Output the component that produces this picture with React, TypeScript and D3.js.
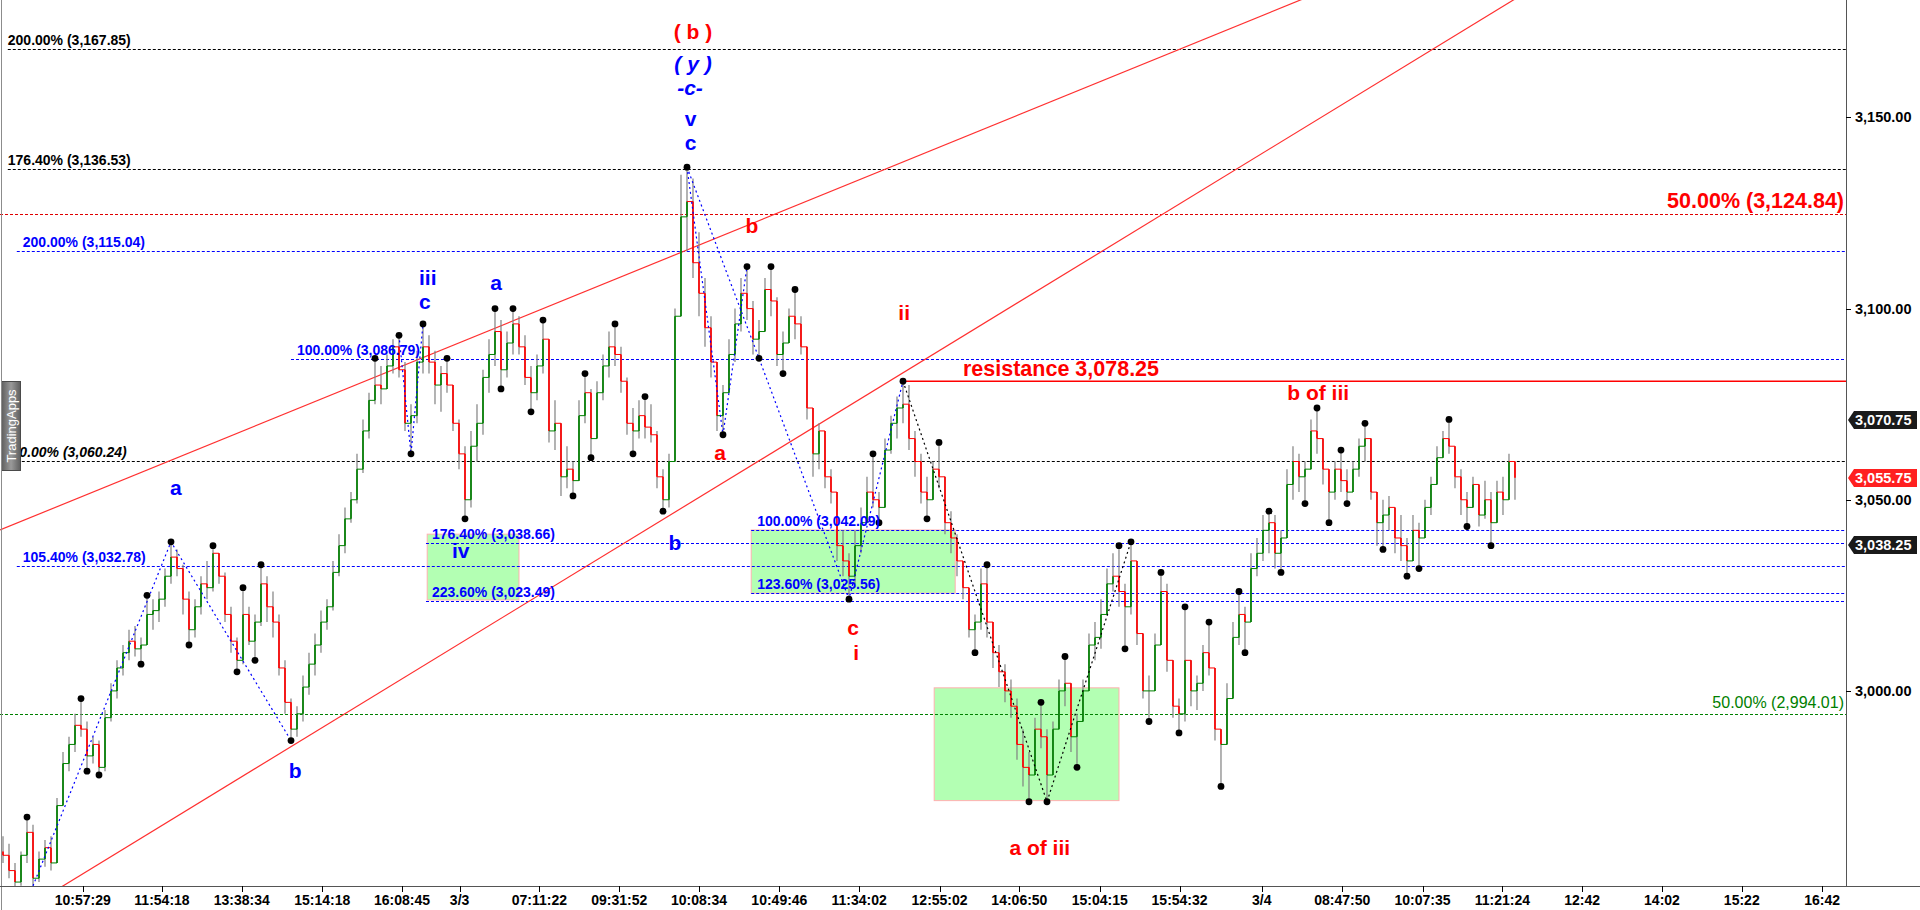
import React from "react";
import * as d3 from "d3";

// ---------------- DATA ----------------
// bars: [high, low, close]; open = previous close
const firstOpen = 2958;
const session1: number[][] = [
  [2962, 2955, 2957], [2960, 2951, 2953], [2955, 2948, 2950], [2958, 2949, 2957], [2967, 2955, 2963],
  [2965, 2949, 2951], [2958, 2950, 2956], [2961, 2954, 2959], [2962, 2953, 2955], [2972, 2955, 2970],
  [2984, 2970, 2981], [2988, 2979, 2986], [2994, 2984, 2991], [2998, 2988, 2990], [2992, 2979, 2983],
  [2988, 2981, 2986], [2987, 2978, 2980], [2995, 2979, 2993], [3002, 2992, 3000], [3008, 2998, 3006],
  [3012, 3004, 3010], [3016, 3008, 3013], [3017, 3009, 3011], [3014, 3007, 3012], [3025, 3012, 3020],
  [3024, 3016, 3021], [3026, 3018, 3024], [3032, 3022, 3030], [3039, 3028, 3035], [3037, 3030, 3032],
  [3033, 3020, 3024], [3026, 3012, 3016], [3024, 3014, 3022], [3030, 3020, 3028], [3034, 3024, 3027],
  [3038, 3026, 3036], [3036, 3028, 3030], [3031, 3018, 3020], [3022, 3010, 3013], [3014, 3005, 3008],
  [3027, 3007, 3020], [3022, 3012, 3013], [3020, 3008, 3018], [3033, 3017, 3028], [3030, 3018, 3022],
  [3026, 3014, 3018], [3020, 3004, 3006], [3008, 2994, 2997], [2998, 2987, 2990], [2996, 2988, 2994],
  [3004, 2992, 3001], [3010, 2999, 3007], [3015, 3004, 3012], [3021, 3010, 3018], [3024, 3016, 3022],
  [3034, 3021, 3031], [3041, 3030, 3038], [3048, 3036, 3045], [3052, 3044, 3050], [3062, 3049, 3058],
  [3071, 3057, 3068], [3078, 3066, 3076], [3087, 3075, 3080], [3085, 3075, 3079], [3088, 3079, 3085],
  [3092, 3083, 3090], [3093, 3082, 3084], [3086, 3068, 3070], [3075, 3062, 3072], [3089, 3070, 3086],
  [3096, 3083, 3090], [3093, 3083, 3086], [3089, 3075, 3080], [3085, 3073, 3083], [3087, 3078, 3080],
  [3078, 3068, 3070],
];
const session2: number[][] = [
  [3071, 3058, 3062], [3064, 3045, 3050], [3068, 3048, 3064], [3075, 3060, 3070], [3084, 3067, 3082],
  [3092, 3078, 3088], [3100, 3085, 3094], [3097, 3079, 3084], [3094, 3082, 3091], [3100, 3088, 3096],
  [3098, 3088, 3090], [3093, 3080, 3082], [3085, 3073, 3078], [3088, 3076, 3085], [3097, 3083, 3092],
  [3092, 3065, 3068], [3076, 3063, 3070], [3068, 3051, 3056], [3064, 3053, 3058], [3060, 3051, 3055],
  [3076, 3056, 3072], [3083, 3070, 3078], [3079, 3061, 3066], [3081, 3066, 3078], [3088, 3076, 3085],
  [3094, 3082, 3090], [3096, 3085, 3088], [3090, 3078, 3081], [3082, 3067, 3070], [3074, 3062, 3068],
  [3076, 3066, 3072], [3077, 3066, 3069], [3075, 3065, 3067], [3068, 3053, 3056], [3058, 3047, 3050],
  [3062, 3048, 3060], [3100, 3060, 3098], [3135, 3102, 3124], [3137, 3115, 3128], [3134, 3108, 3112],
  [3120, 3098, 3104], [3108, 3090, 3095], [3098, 3082, 3086], [3086, 3068, 3072], [3080, 3067, 3078],
  [3092, 3078, 3088], [3100, 3086, 3096], [3108, 3094, 3104], [3111, 3097, 3100], [3102, 3088, 3092],
  [3097, 3087, 3094], [3108, 3094, 3105], [3111, 3098, 3102], [3103, 3085, 3088], [3094, 3083, 3091],
  [3100, 3092, 3098], [3105, 3092, 3096], [3098, 3088, 3090], [3089, 3071, 3074], [3074, 3056, 3062],
  [3070, 3058, 3068], [3068, 3053, 3056], [3058, 3049, 3052], [3050, 3034, 3038], [3042, 3030, 3034],
  [3036, 3024, 3030], [3042, 3028, 3038], [3048, 3036, 3044], [3056, 3045, 3052], [3062, 3048, 3050],
  [3052, 3044, 3048], [3066, 3050, 3063], [3072, 3062, 3070], [3077, 3066, 3074], [3081, 3070, 3075],
  [3080, 3063, 3066], [3068, 3056, 3060], [3062, 3049, 3052], [3056, 3045, 3050], [3060, 3050, 3058],
  [3065, 3053, 3056], [3056, 3041, 3044], [3047, 3036, 3040], [3041, 3030, 3034], [3034, 3024, 3027],
  [3025, 3014, 3016], [3020, 3010, 3018], [3032, 3016, 3028], [3033, 3014, 3018], [3016, 3006, 3010],
  [3012, 3001, 3005], [3007, 2997, 3000], [3003, 2993, 2996], [2998, 2982, 2986], [2990, 2975, 2980],
  [2984, 2971, 2978], [2993, 2982, 2990], [2997, 2985, 2988], [2990, 2971, 2978], [2992, 2979, 2990],
  [3003, 2990, 3000], [3009, 2996, 3002], [3002, 2984, 2988], [2994, 2980, 2992], [3003, 2992, 3000],
  [3015, 3000, 3012], [3018, 3008, 3014], [3024, 3011, 3020], [3032, 3020, 3028], [3036, 3026, 3030],
  [3038, 3022, 3026], [3028, 3011, 3022], [3039, 3020, 3034], [3030, 3012, 3015], [3014, 2998, 3000],
  [3004, 2992, 3000], [3015, 3002, 3012], [3031, 3014, 3026], [3028, 3005, 3008], [3006, 2993, 2996],
  [2998, 2989, 2994], [3022, 2992, 3008], [3006, 2996, 3000], [3004, 2995, 3002], [3012, 3000, 3010],
  [3018, 3004, 3006], [3006, 2987, 2990], [2990, 2975, 2986], [3002, 2988, 2998], [3018, 3000, 3014],
  [3026, 3012, 3020], [3022, 3010, 3018], [3036, 3020, 3032], [3040, 3030, 3036],
];
const session3: number[][] = [
  [3046, 3034, 3042], [3047, 3036, 3044], [3046, 3032, 3036], [3042, 3031, 3040], [3058, 3044, 3054],
  [3064, 3050, 3060], [3062, 3052, 3056], [3060, 3049, 3058], [3071, 3058, 3068], [3074, 3062, 3066],
  [3066, 3054, 3058], [3058, 3044, 3052], [3060, 3050, 3058], [3063, 3052, 3055], [3058, 3049, 3052],
  [3060, 3054, 3058], [3066, 3056, 3064], [3070, 3060, 3066], [3064, 3050, 3052], [3050, 3038, 3044],
  [3050, 3037, 3046], [3051, 3042, 3048], [3048, 3036, 3040], [3046, 3034, 3038], [3040, 3030, 3034],
  [3046, 3035, 3042], [3044, 3032, 3040], [3050, 3040, 3048], [3056, 3046, 3054], [3064, 3054, 3061],
  [3068, 3061, 3066], [3071, 3062, 3064], [3064, 3053, 3056], [3058, 3046, 3050], [3052, 3043, 3048],
  [3056, 3048, 3054], [3053, 3043, 3046], [3055, 3045, 3050], [3052, 3038, 3044], [3055, 3047, 3052],
  [3056, 3046, 3050], [3062, 3055, 3060], [3058, 3050, 3055.75],
];

const priceTicks = [3000, 3050, 3100, 3150];
const timeTickSlots = [13.3, 26.5, 39.8, 53.2, 66.5, 76.1, 89.4, 102.7, 116, 129.4, 142.7, 156.1, 169.4, 182.8, 196.1, 209.8, 223.2, 236.6, 249.9, 263.2, 276.5, 289.8, 303.2];
const timeTickLabels = ["10:57:29", "11:54:18", "13:38:34", "15:14:18", "16:08:45", "3/3", "07:11:22", "09:31:52", "10:08:34", "10:49:46", "11:34:02", "12:55:02", "14:06:50", "15:04:15", "15:54:32", "3/4", "08:47:50", "10:07:35", "11:21:24", "12:42", "14:02", "15:22", "16:42"];

const fibPrices = [3167.85, 3136.53, 3124.84, 3115.04, 3086.79, 3060.24, 3042.09, 3038.66, 3032.78, 3025.56, 3023.49, 2994.01];
const fibLabels = ["200.00% (3,167.85)", "176.40% (3,136.53)", "50.00% (3,124.84)", "200.00% (3,115.04)", "100.00% (3,086.79)", "100.00% (3,060.24)", "100.00% (3,042.09)", "176.40% (3,038.66)", "105.40% (3,032.78)", "123.60% (3,025.56)", "223.60% (3,023.49)", "50.00% (2,994.01)"];
const fibKinds = ["black", "black", "red", "blue", "blue", "blackItalic", "blue", "blue", "blue", "blue", "blue", "green"];
const fibStartSlots = [0.8, 0.8, -0.5, 2.3, 48, -0.2, 124.7, 70.5, 2.3, 124.7, 70.5, -0.5];

const zoneSlots = [[70.7, 86.0], [124.7, 158.7], [155.2, 186.0]];
const zonePrices = [[3041.0, 3023.8], [3042.09, 3025.56], [3000.8, 2971.3]];

const trendUpper = [[-0.5, 3042.1], [216.2, 3180.7]];
const trendLower = [[10.8, 2949.75], [251.7, 3180.7]];

const resistanceBar = 150;
const resistanceText = "resistance 3,078.25";
const resistanceLabelAt = [160, 3082.4];

const dotHighBars = [4, 13, 24, 28, 35, 40, 43, 62, 66, 70, 74, 82, 85, 90, 97, 102, 107, 114, 124, 128, 132, 145, 150, 156, 164, 173, 177, 186, 188, 193, 197, 201, 206, 211, 219, 223, 227, 241];
const dotLowBars = [14, 16, 23, 31, 39, 42, 48, 68, 77, 83, 88, 95, 98, 105, 110, 120, 126, 130, 141, 146, 154, 162, 171, 174, 179, 187, 191, 196, 203, 207, 213, 217, 221, 224, 230, 234, 236, 244, 248];

const blueWaves: [number, string][][] = [
  [[5, "L"], [28, "H"], [48, "L"]],
  [[66, "H"], [68, "L"], [70, "H"]],
  [[114, "H"], [120, "L"], [124, "H"]],
  [[114, "H"], [126, "L"], [141, "L"], [150, "H"]],
];
const blackWaves: [number, string][][] = [
  [[150, "H"], [174, "L"], [188, "H"]],
];

const waveTexts = ["( b )", "( y )", "-c-", "v", "c", "iii", "c", "a", "a", "b", "iv", "b", "b", "a", "ii", "c", "i", "a of iii", "b of iii"];
const waveSlots = [115, 115, 114.5, 114.6, 114.6, 70.8, 70.3, 82.2, 28.8, 48.7, 76.3, 112, 124.8, 119.5, 150.2, 141.7, 142.2, 172.8, 219.2];
const wavePrices = [3170.5, 3162.2, 3155.9, 3147.8, 3141.5, 3106.2, 3099.9, 3104.9, 3051.2, 2977.2, 3034.8, 3036.9, 3119.8, 3060.4, 3097.0, 3014.6, 3008.1, 2957.1, 3076.1];
const waveKinds = ["red", "blueItalic", "blueItalic", "blue", "blue", "blue", "blue", "blue", "blue", "blue", "blue", "blue", "red", "red", "red", "red", "red", "red", "red"];

const markerPrices = [3070.75, 3055.75, 3038.25];
const markerKinds = ["black", "red", "black"];

// ---------------- LAYOUT ----------------
const W = 1920;
const H = 910;
const PLOT_R = 1846;
const PLOT_B = 886;
const FONT = "'Liberation Sans', Arial, Helvetica, sans-serif";

const xScale = d3.scaleLinear().domain([-0.5, 307.17]).range([0, PLOT_R]);
const yScale = d3.scaleLinear().domain([3000, 3150]).range([690.9, 117.45]);

const bars = [...session1, ...session2, ...session3];
const candles = bars.map((b, i) => {
  const o = i === 0 ? firstOpen : bars[i - 1][2];
  return { i, o, h: b[0], l: b[1], c: b[2] };
});

const fibStyle: Record<string, { color: string; size: number; weight: string; italic?: boolean; right?: boolean; dx: number }> = {
  black: { color: "#000", size: 14, weight: "bold", dx: 0 },
  blackItalic: { color: "#000", size: 14, weight: "bold", italic: true, dx: 2 },
  blue: { color: "#0000ff", size: 14, weight: "bold", dx: 6 },
  red: { color: "#ff0000", size: 21.5, weight: "bold", right: true, dx: 0 },
  green: { color: "#008000", size: 16, weight: "normal", right: true, dx: 0 },
};
const fibLine: Record<string, string> = {
  black: "#000", blackItalic: "#000", blue: "#0000ff", red: "#e00000", green: "#008000",
};

function pivot(p: [number, string]) {
  const c = candles[p[0]];
  return [xScale(p[0]), yScale(p[1] === "H" ? c.h : c.l)];
}

function trendPath(a: number[][]) {
  const [s0, p0] = a[0];
  const [s1, p1] = a[1];
  const slope = (p1 - p0) / (s1 - s0);
  const sa = -0.5, sb = 307;
  return `M${xScale(sa)},${yScale(p0 + slope * (sa - s0))}L${xScale(sb)},${yScale(p0 + slope * (sb - s0))}`;
}

export default function App() {
  const line = d3.line();
  return (
    <div style={{ position: "absolute", left: 0, top: 0, width: W, height: H, background: "#fff" }}>
      <svg width={W} height={H} style={{ display: "block", fontFamily: FONT }}>
        <defs>
          <clipPath id="plot">
            <rect x={0} y={0} width={PLOT_R} height={PLOT_B} />
          </clipPath>
          <linearGradient id="tab" x1="0" x2="1" y1="0" y2="0">
            <stop offset="0" stopColor="#5e5e5e" />
            <stop offset="0.5" stopColor="#9a9a9a" />
            <stop offset="1" stopColor="#5e5e5e" />
          </linearGradient>
        </defs>
        <rect x={0} y={0} width={W} height={H} fill="#fff" />

        <g clipPath="url(#plot)">
          {zoneSlots.map((s, k) => (
            <rect key={"z" + k} x={xScale(s[0])} y={yScale(zonePrices[k][0])}
              width={xScale(s[1]) - xScale(s[0])} height={yScale(zonePrices[k][1]) - yScale(zonePrices[k][0])}
              fill="#b3ffb3" stroke="#ffb0b0" strokeWidth={1} />
          ))}

          {fibPrices.map((p, k) => (
            <line key={"f" + k} x1={xScale(fibStartSlots[k])} x2={PLOT_R} y1={Math.round(yScale(p)) + 0.5} y2={Math.round(yScale(p)) + 0.5}
              stroke={fibLine[fibKinds[k]]} strokeWidth={1} strokeDasharray="3,2" />
          ))}

          <path d={trendPath(trendUpper)} stroke="#ff3030" strokeWidth={1.2} fill="none" />
          <path d={trendPath(trendLower)} stroke="#ff3030" strokeWidth={1.2} fill="none" />

          <line x1={xScale(resistanceBar)} x2={PLOT_R} y1={yScale(candles[resistanceBar].h)} y2={yScale(candles[resistanceBar].h)} stroke="#ff0000" strokeWidth={1.5} />

          {candles.map((d) => {
            const x = xScale(d.i);
            const up = d.c >= d.o;
            const col = up ? "#008000" : "#ff0000";
            const hi = Math.max(d.h, d.o, d.c);
            const lo = Math.min(d.l, d.o, d.c);
            const px = d.i > 0 ? xScale(d.i - 1) : x;
            return (
              <g key={"c" + d.i}>
                <line x1={x} x2={x} y1={yScale(hi)} y2={yScale(lo)} stroke="#808080" strokeWidth={1.2} />
                <line x1={px} x2={x} y1={yScale(d.o)} y2={yScale(d.o)} stroke={col} strokeWidth={1} />
                <line x1={x} x2={x} y1={yScale(d.o)} y2={yScale(d.c)} stroke={col} strokeWidth={1.7} />
              </g>
            );
          })}

          {blueWaves.map((w, k) => (
            <path key={"bw" + k} d={line(w.map(pivot) as [number, number][]) || ""} stroke="#0000ff" strokeWidth={1.2} strokeDasharray="2,3" fill="none" />
          ))}
          {blackWaves.map((w, k) => (
            <path key={"kw" + k} d={line(w.map(pivot) as [number, number][]) || ""} stroke="#000" strokeWidth={1.2} strokeDasharray="2,3" fill="none" />
          ))}

          {dotHighBars.map((b) => (
            <circle key={"dh" + b} cx={xScale(b)} cy={yScale(candles[b].h)} r={3.4} fill="#000" />
          ))}
          {dotLowBars.map((b) => (
            <circle key={"dl" + b} cx={xScale(b)} cy={yScale(candles[b].l)} r={3.4} fill="#000" />
          ))}
        </g>

        {fibPrices.map((p, k) => {
          const st = fibStyle[fibKinds[k]];
          const y = yScale(p);
          const right = !!st.right;
          return (
            <text key={"fl" + k} x={right ? PLOT_R - 2 : xScale(fibStartSlots[k]) + st.dx} y={y - (st.size > 15 ? 6 : 4)}
              textAnchor={right ? "end" : "start"} fill={st.color} fontSize={st.size} fontWeight={st.weight}
              fontStyle={st.italic ? "italic" : "normal"}>{fibLabels[k]}</text>
          );
        })}

        <text x={xScale(resistanceLabelAt[0])} y={yScale(resistanceLabelAt[1])} fill="#ff0000" fontSize={21.5} fontWeight="bold">{resistanceText}</text>

        {waveTexts.map((t, k) => {
          const kind = waveKinds[k];
          return (
            <text key={"wl" + k} x={xScale(waveSlots[k])} y={yScale(wavePrices[k])} textAnchor="middle"
              fill={kind === "red" ? "#ff0000" : "#0000ff"} fontSize={21} fontWeight="bold"
              fontStyle={kind === "blueItalic" ? "italic" : "normal"}>{t}</text>
          );
        })}

        <rect x={1.5} y={381.5} width={19} height={89} fill="url(#tab)" stroke="#4a4a4a" strokeWidth={1} />
        <text transform="translate(16,426) rotate(-90)" textAnchor="middle" fill="#fff" fontSize={13}>TradingApps</text>

        <line x1={1.5} x2={1.5} y1={0} y2={H} stroke="#8c8c8c" strokeWidth={1} />
        <line x1={PLOT_R + 0.5} x2={PLOT_R + 0.5} y1={0} y2={PLOT_B} stroke="#555" strokeWidth={1} />
        <line x1={0} x2={W} y1={PLOT_B + 0.5} y2={PLOT_B + 0.5} stroke="#555" strokeWidth={1} />

        {priceTicks.map((p) => (
          <g key={"yt" + p}>
            <line x1={PLOT_R} x2={PLOT_R + 5} y1={Math.round(yScale(p)) + 0.5} y2={Math.round(yScale(p)) + 0.5} stroke="#000" />
            <text x={PLOT_R + 9} y={yScale(p) + 5} fontSize={14.5} fontWeight="bold" fill="#000">{d3.format(",.2f")(p)}</text>
          </g>
        ))}

        {timeTickSlots.map((s, k) => (
          <g key={"xt" + k}>
            <line x1={Math.round(xScale(s)) + 0.5} x2={Math.round(xScale(s)) + 0.5} y1={PLOT_B} y2={PLOT_B + 6} stroke="#000" />
            <text x={xScale(s)} y={905} textAnchor="middle" fontSize={14} fontWeight="bold" fill="#000">{timeTickLabels[k]}</text>
          </g>
        ))}

        {markerPrices.map((p, k) => {
          const cy = Math.round(yScale(p));
          return (
            <g key={"pm" + k}>
              <path d={`M${PLOT_R + 2},${cy}L${PLOT_R + 8},${cy - 9}L${W - 3},${cy - 9}L${W - 3},${cy + 9}L${PLOT_R + 8},${cy + 9}Z`}
                fill={markerKinds[k] === "red" ? "#ff2020" : "#1a1a1a"} />
              <text x={PLOT_R + 9} y={cy + 5} fontSize={14.5} fontWeight="bold" fill="#fff">{d3.format(",.2f")(p)}</text>
            </g>
          );
        })}
      </svg>
    </div>
  );
}
